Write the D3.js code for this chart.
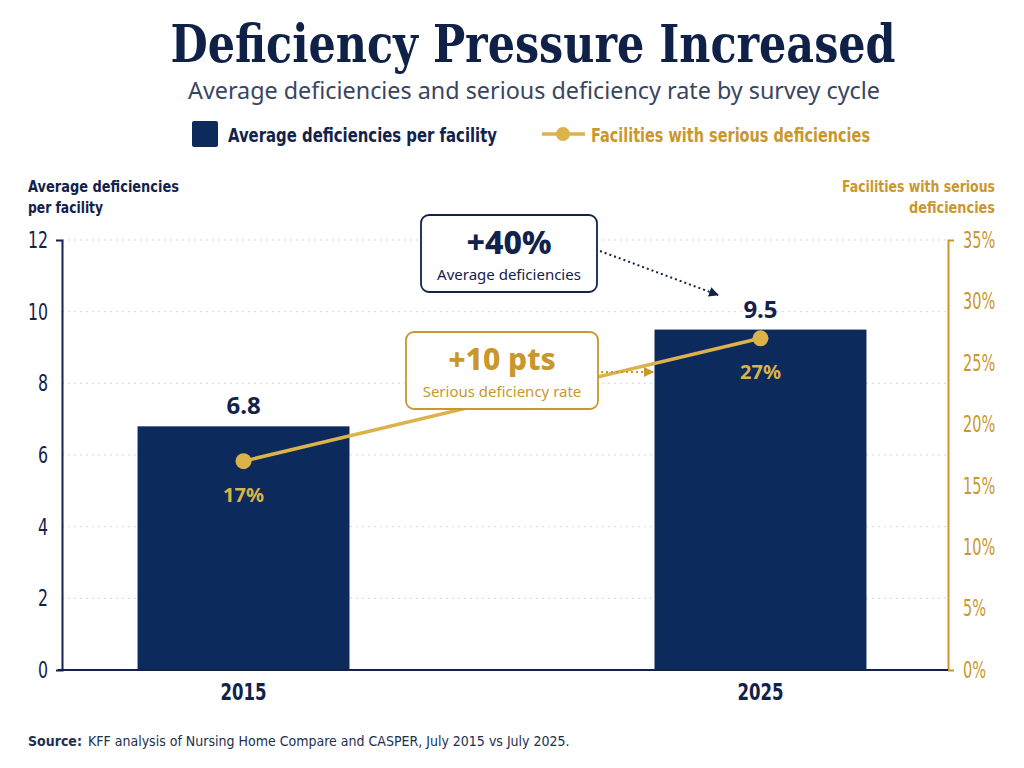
<!DOCTYPE html>
<html><head><meta charset="utf-8">
<script src="https://cdn.jsdelivr.net/npm/d3@7"></script>
<style>
html,body{margin:0;padding:0;background:#ffffff;}
svg{display:block;}
</style></head>
<body>
<script>
// ---- data ----
const categories = ["2015", "2025"];
const avgDeficiencies = [6.8, 9.5];
const seriousRate = [17, 27];
const leftTicks = [0, 2, 4, 6, 8, 10, 12];
const rightTicks = [0, 5, 10, 15, 20, 25, 30, 35];
const title = "Deficiency Pressure Increased";
const subtitle = "Average deficiencies and serious deficiency rate by survey cycle";
const legendLabels = ["Average deficiencies per facility", "Facilities with serious deficiencies"];
const leftTitle = ["Average deficiencies", "per facility"];
const rightTitle = ["Facilities with serious", "deficiencies"];
const annotations = [
  {big: "+40%", small: "Average deficiencies"},
  {big: "+10 pts", small: "Serious deficiency rate"}
];
const sourceLabel = "Source:";
const sourceText = "KFF analysis of Nursing Home Compare and CASPER, July 2015 vs July 2025.";

// ---- style ----
const NAVY = "#0c2a5b", INK = "#13224a", GOLD = "#c9972c", GOLD_L = "#dcb24a";
const COND = "'DejaVu Sans Condensed','Roboto',sans-serif";
const SANS = "'Noto Sans','Open Sans',sans-serif";

const W = 1024, H = 768;
const svg = d3.select("body").append("svg").attr("width", W).attr("height", H);
svg.append("rect").attr("width", W).attr("height", H).attr("fill", "#ffffff");

const L = 62, R = 948, T = 240, B = 670;
const x = d3.scaleBand().domain(categories).range([60, 944]).paddingInner(0.59).paddingOuter(0.15);
const yL = d3.scaleLinear().domain([0, 12]).range([B, T]);
const yR = d3.scaleLinear().domain([0, 35]).range([B, T]);

function fit(sel, w) {
  const n = sel.node().getComputedTextLength();
  if (Math.abs(n - w) > 3) sel.attr("textLength", w).attr("lengthAdjust", "spacingAndGlyphs");
  return sel;
}
function squeeze(sel, r) {
  sel.each(function () {
    const n = this.getComputedTextLength();
    d3.select(this).attr("textLength", n * r).attr("lengthAdjust", "spacingAndGlyphs");
  });
}

// title
const tt = svg.append("text").attr("x", 533).attr("y", 62).attr("text-anchor", "middle")
  .attr("font-family", "'DejaVu Serif Condensed','DejaVu Serif',serif").attr("font-weight", 700)
  .attr("font-size", 53).attr("fill", "#0f2147").text(title);
fit(tt, 725);

fit(svg.append("text").attr("x", 534).attr("y", 99).attr("text-anchor", "middle")
  .attr("font-family", SANS).attr("font-size", 23).attr("fill", "#3a4560").text(subtitle), 692);

// legend
const lg = svg.append("g");
lg.append("rect").attr("x", 192).attr("y", 121).attr("width", 26).attr("height", 26).attr("rx", 2).attr("fill", NAVY);
fit(lg.append("text").attr("x", 228).attr("y", 142).attr("font-family", COND).attr("font-weight", 700)
  .attr("font-size", 20).attr("fill", INK).text(legendLabels[0]), 269);
lg.append("line").attr("x1", 542).attr("x2", 585).attr("y1", 134).attr("y2", 134).attr("stroke", GOLD_L).attr("stroke-width", 3.5);
lg.append("circle").attr("cx", 563).attr("cy", 134).attr("r", 7).attr("fill", GOLD_L);
fit(lg.append("text").attr("x", 591).attr("y", 142).attr("font-family", COND).attr("font-weight", 700)
  .attr("font-size", 20).attr("fill", GOLD).text(legendLabels[1]), 279);

// axis titles
const leftW = [151, 75], rightW = [153, 86];
svg.append("g").selectAll("text").data(leftTitle).join("text")
  .attr("font-family", COND).attr("font-weight", 700).attr("font-size", 16).attr("fill", INK)
  .attr("x", 28).attr("y", (d, i) => 192 + i * 21).text(d => d)
  .each(function (d, i) { fit(d3.select(this), leftW[i]); });
svg.append("g").selectAll("text").data(rightTitle).join("text")
  .attr("font-family", COND).attr("font-weight", 700).attr("font-size", 16).attr("fill", GOLD)
  .attr("text-anchor", "end").attr("x", 995).attr("y", (d, i) => 192 + i * 21).text(d => d)
  .each(function (d, i) { fit(d3.select(this), rightW[i]); });

// grid
svg.append("g").selectAll("line").data(leftTicks.filter(d => d > 0)).join("line")
  .attr("x1", L).attr("x2", R).attr("y1", d => yL(d)).attr("y2", d => yL(d))
  .attr("stroke", "#d3d6dc").attr("stroke-width", 1).attr("stroke-dasharray", "2,4");

// bars
svg.append("g").selectAll("rect").data(categories).join("rect")
  .attr("x", d => x(d)).attr("width", x.bandwidth())
  .attr("y", (d, i) => yL(avgDeficiencies[i])).attr("height", (d, i) => B - yL(avgDeficiencies[i]))
  .attr("fill", NAVY);
svg.append("g").selectAll("text").data(categories).join("text")
  .attr("x", d => x(d) + x.bandwidth() / 2).attr("y", (d, i) => yL(avgDeficiencies[i]) - 12)
  .attr("text-anchor", "middle").attr("font-family", SANS).attr("font-weight", 700).attr("font-size", 24)
  .attr("fill", INK).text((d, i) => d3.format(".1f")(avgDeficiencies[i]));

// left axis
const axL = svg.append("g").attr("transform", `translate(${L},0)`)
  .call(d3.axisLeft(yL).tickValues(leftTicks).tickSize(0).tickSizeOuter(6).tickPadding(14).tickFormat(d3.format("d")));
axL.select(".domain").attr("stroke", INK).attr("stroke-width", 2);
axL.selectAll("text").attr("font-family", COND).attr("font-size", 23).attr("fill", INK).call(squeeze, 0.76);

// right axis
const axR = svg.append("g").attr("transform", `translate(${R},0)`)
  .call(d3.axisRight(yR).tickValues(rightTicks).tickSize(0).tickSizeOuter(6).tickPadding(15).tickFormat(d => d + "%"));
axR.select(".domain").attr("stroke", GOLD).attr("stroke-width", 2);
axR.selectAll("text").attr("font-family", COND).attr("font-size", 23).attr("fill", GOLD).call(squeeze, 0.7);

// bottom axis
const axB = svg.append("g").attr("transform", `translate(0,${B})`)
  .call(d3.axisBottom(x).tickSize(0).tickPadding(14));
axB.select(".domain").remove();
svg.append("line").attr("x1", L - 4).attr("x2", R).attr("y1", B).attr("y2", B).attr("stroke", INK).attr("stroke-width", 2);
axB.selectAll("text").attr("font-family", COND).attr("font-weight", 700).attr("font-size", 23).attr("fill", INK).call(squeeze, 0.8);

// line series
const cx = d => x(d) + x.bandwidth() / 2;
const line = d3.line().x((d, i) => cx(categories[i])).y(d => yR(d));
svg.append("path").datum(seriousRate).attr("d", line).attr("fill", "none").attr("stroke", GOLD_L).attr("stroke-width", 3.5);
svg.append("g").selectAll("circle").data(seriousRate).join("circle")
  .attr("cx", (d, i) => cx(categories[i])).attr("cy", d => yR(d)).attr("r", 8).attr("fill", GOLD_L);
svg.append("g").selectAll("text").data(seriousRate).join("text")
  .attr("x", (d, i) => cx(categories[i])).attr("y", d => yR(d) + 41)
  .attr("text-anchor", "middle").attr("font-family", SANS).attr("font-weight", 700).attr("font-size", 20)
  .attr("fill", GOLD_L).text(d => d + "%");

// annotations
const defs = svg.append("defs");
[["arrNavy", INK], ["arrGold", GOLD]].forEach(([id, c]) => {
  defs.append("marker").attr("id", id).attr("viewBox", "0 0 10 10").attr("refX", 9).attr("refY", 5)
    .attr("markerWidth", 10).attr("markerHeight", 10).attr("markerUnits", "userSpaceOnUse").attr("orient", "auto")
    .append("path").attr("d", "M0,0L10,5L0,10Z").attr("fill", c);
});
function box(bx, by, bw, bh, color, a, bigSize, bigY, smallY, bigColor, smallColor) {
  svg.append("rect").attr("x", bx).attr("y", by).attr("width", bw).attr("height", bh).attr("rx", 8)
    .attr("fill", "#fff").attr("stroke", color).attr("stroke-width", 1.8);
  svg.append("text").attr("x", bx + bw / 2).attr("y", by + bigY).attr("text-anchor", "middle")
    .attr("font-family", SANS).attr("font-weight", 800).attr("font-size", bigSize).attr("fill", bigColor).text(a.big);
  svg.append("text").attr("x", bx + bw / 2).attr("y", by + smallY).attr("text-anchor", "middle")
    .attr("font-family", SANS).attr("font-size", 15).attr("fill", smallColor).text(a.small);
}
box(421, 215, 176, 77, INK, annotations[0], 32, 39, 65, INK, INK);
svg.append("line").attr("x1", 600).attr("y1", 251).attr("x2", 718).attr("y2", 295)
  .attr("stroke", INK).attr("stroke-width", 2).attr("stroke-dasharray", "2,3").attr("marker-end", "url(#arrNavy)");
box(406, 332, 192, 77, GOLD, annotations[1], 30, 38, 65, GOLD, GOLD);
svg.append("line").attr("x1", 601).attr("y1", 372).attr("x2", 653).attr("y2", 372)
  .attr("stroke", GOLD).attr("stroke-width", 2).attr("stroke-dasharray", "2,3").attr("marker-end", "url(#arrGold)");

// source
const src = svg.append("text").attr("x", 28).attr("y", 746).attr("font-family", COND).attr("font-size", 14).attr("fill", "#22304f");
src.append("tspan").attr("font-weight", 700).text(sourceLabel);
src.append("tspan").attr("dx", 6).text(sourceText);
fit(src, 538);
</script>
</body></html>
